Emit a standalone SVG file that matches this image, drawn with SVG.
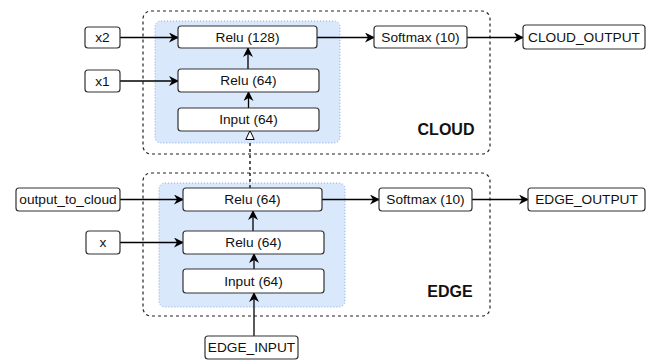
<svg xmlns="http://www.w3.org/2000/svg" width="655" height="362" viewBox="0 0 655 362">
<style>
.node rect{fill:#fff;stroke:#333;stroke-width:1.2}
.grp{fill:none;stroke:#222;stroke-width:1.2;stroke-dasharray:3,3}
.blue{fill:#dae8fc;stroke:#8aa8e0;stroke-width:1;stroke-dasharray:1,2}
text{font-family:"Liberation Sans",Arial,sans-serif;font-size:13.7px;fill:#111;text-anchor:middle}
.lbl{font-weight:bold;font-size:16px}
.e{fill:none;stroke:#000;stroke-width:1.3}
</style>
<defs>
<marker id="a" viewBox="0 0 10 10" refX="9" refY="5" markerWidth="10" markerHeight="10" markerUnits="userSpaceOnUse" orient="auto"><path d="M0,0 L10,5 L0,10 L3,5 Z" fill="#000"/></marker>
<marker id="o" viewBox="0 0 10 10" refX="9" refY="5" markerWidth="10" markerHeight="10" markerUnits="userSpaceOnUse" orient="auto"><path d="M0.5,0.8 L9.5,5 L0.5,9.2 Z" fill="#fff" stroke="#000" stroke-width="1"/></marker>
</defs>
<g id="cloud-group">
<rect class="grp" x="143" y="11" width="347" height="143" rx="8"/>
<rect class="blue" x="155" y="21" width="185" height="122" rx="6"/>
<text class="lbl" x="446" y="135">CLOUD</text>
</g>
<g id="edge-group">
<rect class="grp" x="143" y="173" width="347" height="143" rx="8"/>
<rect class="blue" x="159" y="183" width="186" height="124" rx="6"/>
<text class="lbl" x="450" y="297">EDGE</text>
</g>
<g id="connectors">
<path class="e" d="M120,37.5 H178" marker-end="url(#a)"/>
<path class="e" d="M120,81 H178" marker-end="url(#a)"/>
<path class="e" d="M248.5,108 V92" marker-end="url(#a)"/>
<path class="e" d="M248,69 V48" marker-end="url(#a)"/>
<path class="e" d="M317,37.5 H374" marker-end="url(#a)"/>
<path class="e" d="M467,37.5 H523" marker-end="url(#a)"/>
<path class="e" d="M250,188 V131" stroke-dasharray="3,3" marker-end="url(#o)"/>
<path class="e" d="M120,199.5 H183" marker-end="url(#a)"/>
<path class="e" d="M120,242.5 H183" marker-end="url(#a)"/>
<path class="e" d="M254,269 V254" marker-end="url(#a)"/>
<path class="e" d="M253,231 V211" marker-end="url(#a)"/>
<path class="e" d="M254,336 V293" marker-end="url(#a)"/>
<path class="e" d="M322,199.5 H379" marker-end="url(#a)"/>
<path class="e" d="M472,199.5 H528" marker-end="url(#a)"/>
</g>
<g id="x2" class="node"><rect x="85" y="27" width="35" height="21" rx="3"/><text x="102.5" y="42.3">x2</text></g>
<g id="x1" class="node"><rect x="85" y="70" width="35" height="22" rx="3"/><text x="102.5" y="85.8">x1</text></g>
<g id="cloud-relu128" class="node"><rect x="178" y="26" width="139" height="22" rx="3"/><text x="247.5" y="41.8">Relu (128)</text></g>
<g id="cloud-relu64" class="node"><rect x="178" y="69" width="141" height="23" rx="3"/><text x="248.5" y="85.3">Relu (64)</text></g>
<g id="cloud-input" class="node"><rect x="178" y="108" width="141" height="23" rx="3"/><text x="248.5" y="124.3">Input (64)</text></g>
<g id="cloud-softmax" class="node"><rect x="374" y="26" width="93" height="22" rx="3"/><text x="420.5" y="41.8">Softmax (10)</text></g>
<g id="cloud-output" class="node"><rect x="523" y="25" width="122" height="24" rx="3"/><text x="584" y="41.8">CLOUD_OUTPUT</text></g>
<g id="output-to-cloud" class="node"><rect x="16" y="188" width="104" height="23" rx="3"/><text x="68" y="204.3">output_to_cloud</text></g>
<g id="x" class="node"><rect x="86" y="231" width="34" height="23" rx="3"/><text x="103" y="247.3">x</text></g>
<g id="edge-relu64-top" class="node"><rect x="183" y="188" width="139" height="23" rx="3"/><text x="252.5" y="204.3">Relu (64)</text></g>
<g id="edge-relu64" class="node"><rect x="183" y="231" width="141" height="23" rx="3"/><text x="253.5" y="247.3">Relu (64)</text></g>
<g id="edge-input" class="node"><rect x="183" y="269" width="141" height="24" rx="3"/><text x="253.5" y="285.8">Input (64)</text></g>
<g id="edge-softmax" class="node"><rect x="379" y="188" width="93" height="23" rx="3"/><text x="425.5" y="204.3">Softmax (10)</text></g>
<g id="edge-output" class="node"><rect x="528" y="188" width="117" height="23" rx="3"/><text x="586.5" y="204.3">EDGE_OUTPUT</text></g>
<g id="edge-input-src" class="node"><rect x="205" y="336" width="93" height="23" rx="3"/><text x="251.5" y="352.3">EDGE_INPUT</text></g>
</svg>
